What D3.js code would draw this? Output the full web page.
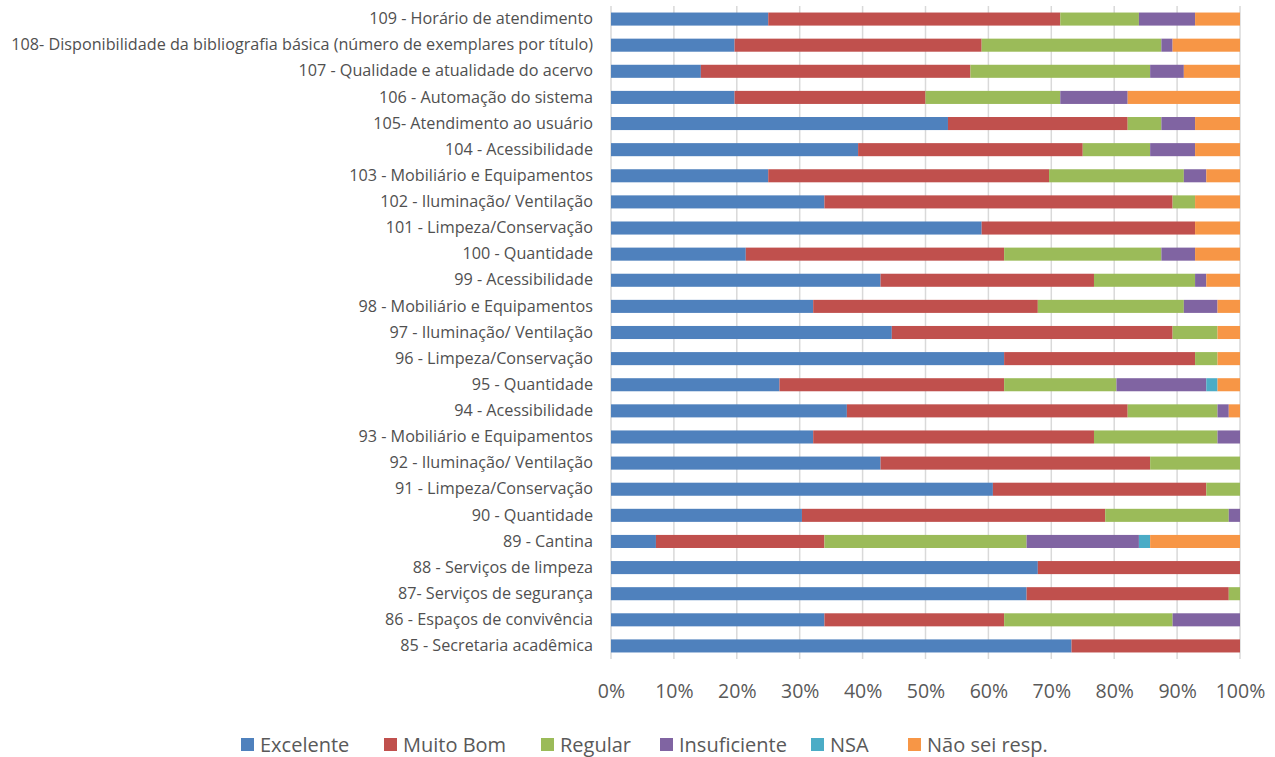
<!DOCTYPE html>
<html>
<head>
<meta charset="utf-8">
<script src="https://cdn.jsdelivr.net/npm/d3@7"></script>
<style>
  html, body { margin: 0; padding: 0; background: #fff; }
  svg { display: block; font-family: "Open Sans", sans-serif; }
</style>
</head>
<body>
<svg id="chart" width="1275" height="757"></svg>
<script>
// Categories (top to bottom)
const categories = [
  "109 - Horário de atendimento",
  "108- Disponibilidade da bibliografia básica (número de exemplares por título)",
  "107 - Qualidade e atualidade do acervo",
  "106 - Automação do sistema",
  "105- Atendimento ao usuário",
  "104 - Acessibilidade",
  "103 - Mobiliário e Equipamentos",
  "102 - Iluminação/ Ventilação",
  "101 - Limpeza/Conservação",
  "100 - Quantidade",
  "99 - Acessibilidade",
  "98 - Mobiliário e Equipamentos",
  "97 - Iluminação/ Ventilação",
  "96 - Limpeza/Conservação",
  "95 - Quantidade",
  "94 - Acessibilidade",
  "93 - Mobiliário e Equipamentos",
  "92 - Iluminação/ Ventilação",
  "91 - Limpeza/Conservação",
  "90 - Quantidade",
  "89 - Cantina",
  "88 - Serviços de limpeza",
  "87- Serviços de segurança",
  "86 - Espaços de convivência",
  "85 - Secretaria acadêmica"
];

// Series (response counts per category, same order as categories)
const excelente    = [14,11, 8,11,30,22,14,19,33,12,24,18,25,35,15,21,18,24,34,17, 4,38,37,19,41];
const muitoBom     = [26,22,24,17,16,20,25,31,19,23,19,20,25,17,20,25,25,24,19,27,15,18,18,16,15];
const regular      = [ 7,16,16,12, 3, 6,12, 2, 0,14, 9,13, 4, 2,10, 8,11, 8, 3,11,18, 0, 1,15, 0];
const insuficiente = [ 5, 1, 3, 6, 3, 4, 2, 0, 0, 3, 1, 3, 0, 0, 8, 1, 2, 0, 0, 1,10, 0, 0, 6, 0];
const nsa          = [ 0, 0, 0, 0, 0, 0, 0, 0, 0, 0, 0, 0, 0, 0, 1, 0, 0, 0, 0, 0, 1, 0, 0, 0, 0];
const naoSei       = [ 4, 6, 5,10, 4, 4, 3, 4, 4, 4, 3, 2, 2, 2, 2, 1, 0, 0, 0, 0, 8, 0, 0, 0, 0];

const seriesNames = ["Excelente", "Muito Bom", "Regular", "Insuficiente", "NSA", "Não sei resp."];
const seriesValues = [excelente, muitoBom, regular, insuficiente, nsa, naoSei];
const seriesColors = ["#4F81BD", "#C0504D", "#9BBB59", "#8064A2", "#4BACC6", "#F79646"];
const tickValues = [0, 0.1, 0.2, 0.3, 0.4, 0.5, 0.6, 0.7, 0.8, 0.9, 1.0];

const rows = categories.map((c, i) => {
  const r = { category: c };
  seriesNames.forEach((s, j) => r[s] = seriesValues[j][i]);
  return r;
});

const svg = d3.select("#chart");
const x = d3.scaleLinear().domain([0, 1]).range([611, 1240]);
const y = d3.scaleBand().domain(categories).range([6, 659]).paddingInner(0.5).paddingOuter(0.25);

// Gridlines
svg.append("g")
  .selectAll("line")
  .data(tickValues)
  .join("line")
  .attr("x1", d => x(d)).attr("x2", d => x(d))
  .attr("y1", 6).attr("y2", 659)
  .attr("stroke", "#d9d9d9")
  .attr("stroke-width", 1.5);

const stack = d3.stack().keys(seriesNames).offset(d3.stackOffsetExpand);
const stacked = stack(rows);

svg.append("g")
  .selectAll("g")
  .data(stacked)
  .join("g")
  .attr("fill", (d, i) => seriesColors[i])
  .selectAll("rect")
  .data(d => d)
  .join("rect")
  .attr("x", d => x(d[0]))
  .attr("width", d => Math.max(0, x(d[1]) - x(d[0])))
  .attr("y", d => y(d.data.category))
  .attr("height", y.bandwidth());

// Category axis labels
const yAxis = d3.axisLeft(y).tickSize(0).tickPadding(0);
const yg = svg.append("g").attr("transform", "translate(593,0)").call(yAxis);
yg.select(".domain").remove();
yg.selectAll("text")
  .attr("fill", "#505050")
  .style("font-size", "16.2px")
  .style("font-family", "'Open Sans', sans-serif");

// X axis tick labels
const xAxis = d3.axisBottom(x).tickValues(tickValues).tickFormat(d3.format(".0%")).tickSize(0).tickPadding(0);
const xg = svg.append("g").attr("transform", "translate(0,698)").call(xAxis);
xg.select(".domain").remove();
xg.selectAll("text")
  .attr("fill", "#595959")
  .attr("y", 0)
  .attr("dy", "0")
  .style("font-size", "19.5px")
  .style("font-family", "'Open Sans', sans-serif");

// Legend
const legendX = [241, 384, 541, 660, 811, 908];
const lg = svg.append("g");
seriesNames.forEach((s, i) => {
  const g = lg.append("g").attr("transform", `translate(${legendX[i]},0)`);
  g.append("rect").attr("x", 0).attr("y", 738).attr("width", 13).attr("height", 13).attr("fill", seriesColors[i]);
  g.append("text").attr("x", 19).attr("y", 752)
    .attr("fill", "#595959")
    .style("font-size", "20px")
    .text(s);
});
</script>
</body>
</html>
